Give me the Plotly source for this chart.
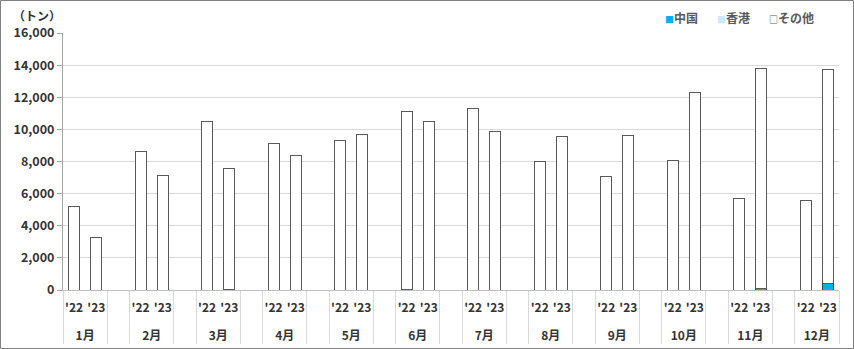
import plotly.graph_objects as go

months = ["1月", "2月", "3月", "4月", "5月", "6月", "7月", "8月", "9月", "10月", "11月", "12月"]
years = ["'22", "'23"]

# values in tonnes
china_22 = [0, 0, 0, 0, 0, 60, 0, 0, 0, 0, 0, 0]
china_23 = [0, 0, 40, 0, 0, 0, 0, 0, 0, 0, 120, 420]
hk_22 = [0, 0, 0, 0, 0, 0, 0, 0, 0, 0, 0, 0]
hk_23 = [0, 0, 0, 0, 0, 0, 0, 0, 0, 0, 0, 0]
other_22 = [5200, 8600, 10500, 9100, 9300, 11040, 11300, 8000, 7050, 8050, 5700, 5550]
other_23 = [3250, 7150, 7510, 8400, 9700, 10500, 9850, 9550, 9600, 12300, 13680, 13280]

series = [
    ("中国", china_22, china_23, "#00B0F0", "#404040"),
    ("香港", hk_22, hk_23, "#C6EAF8", "#595959"),
    ("その他", other_22, other_23, "#FFFFFF", "#595959"),
]

# year labels get an empty second line so the month row sits lower (as in the original)
year_disp = [y + "<br>\u00a0" for y in years]

# build multicategory x (month, year), with a blank spacer group between months
def build(v22, v23):
    top, sub, vals = [], [], []
    for i, m in enumerate(months):
        top += [m, m]
        sub += [year_disp[0], year_disp[1]]
        vals += [v22[i] if v22[i] else None, v23[i] if v23[i] else None]
        if i < len(months) - 1:
            top.append(" " * (i + 1))
            sub.append(" ")
            vals.append(None)
    return [top, sub], vals

fig = go.Figure()
for name, v22, v23, fill, line in series:
    x, y = build(v22, v23)
    fig.add_trace(go.Bar(
        x=x, y=y, name=name, width=0.5, showlegend=False,
        marker=dict(color=fill, line=dict(color=line, width=1)),
    ))

W, H = 854, 349
ml, mr, mt, mb = 63, 15, 33, 59
pw, ph = W - ml - mr, H - mt - mb

# legend drawn as text entries: bordered small square + label
legend_ann = []
lx = [(663 - ml) / pw, (715 - ml) / pw, (767 - ml) / pw]
for (name, v22, v23, fill, line), xx in zip(series, lx):
    sq = (f"<span style='font-size:9px;color:{line}'>□</span>" if fill == "#FFFFFF"
          else f"<span style='font-size:9px;color:{fill}'>■</span>")
    legend_ann.append(dict(
        text=f"{sq}{name}",
        xref="paper", yref="paper", x=xx, y=1 + (33 - 17) / ph,
        xanchor="left", yanchor="middle", showarrow=False,
        font=dict(size=12, color="#595959", weight="bold")))

fig.update_layout(
    width=W, height=H,
    margin=dict(l=ml, r=mr, t=mt, b=mb),
    barmode="stack",
    plot_bgcolor="white", paper_bgcolor="white",
    font=dict(family="Noto Sans CJK JP", size=12, color="#333333"),
    showlegend=False,
    xaxis=dict(type="multicategory", showdividers=True, dividercolor="#D9D9D9",
               dividerwidth=1, tickfont=dict(size=12, color="#333333", weight="bold"),
               tickangle=0, automargin=False, ticklabelstandoff=7,
               showline=True, linecolor="#BFBFBF", linewidth=1, showgrid=False,
               ticks=""),
    yaxis=dict(range=[0, 16000], dtick=2000, tickformat=",d", showgrid=True,
               gridcolor="#D9D9D9", gridwidth=1, showline=True, linecolor="#A6A6A6",
               ticks="outside", ticklen=5, tickcolor="#A6A6A6", zeroline=False,
               automargin=False,
               tickfont=dict(size=12.5, color="#333333", weight="bold")),
    annotations=[dict(text="（トン）", xref="paper", yref="paper", x=(37 - ml) / pw,
                      y=1 + (33 - 15) / ph,
                      xanchor="center", yanchor="middle", showarrow=False,
                      font=dict(size=12, color="#333333", weight="bold"))] + legend_ann,
    shapes=[dict(type="rect", xref="paper", yref="paper",
                 x0=-(ml - 0.5) / pw, x1=1 + (mr - 0.5) / pw,
                 y0=-(mb - 0.5) / ph, y1=1 + (mt - 0.5) / ph,
                 line=dict(color="#808080", width=1), fillcolor="rgba(0,0,0,0)",
                 layer="above")],
)

fig.write_html("out.html")
